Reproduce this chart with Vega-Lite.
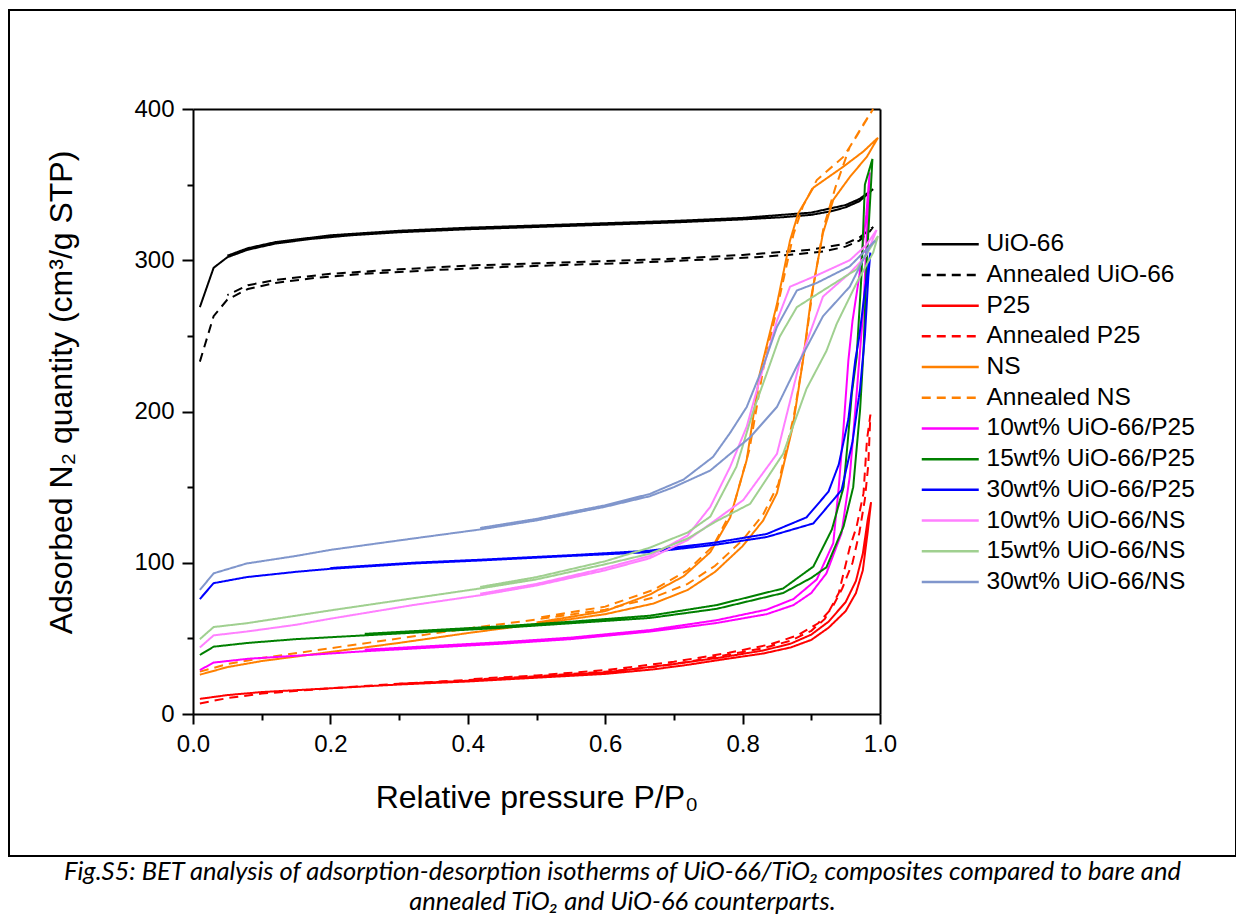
{
"$schema": "https://vega.github.io/schema/vega-lite/v6.json",
"autosize": {"type": "none"},
"padding": {"left": 9, "top": 10, "right": 0, "bottom": 58},
"width": 1227,
"height": 846,
"background": "white",
"config": {"view": {"stroke": "black", "strokeWidth": 2}, "font": "Liberation Sans"},
"title": {"text": ["Fig.S5: BET analysis of adsorption-desorption isotherms of UiO-66/TiO₂ composites compared to bare and", "annealed TiO₂ and UiO-66 counterparts."], "orient": "bottom", "anchor": "middle", "frame": "group", "font": "Lato", "fontStyle": "italic", "fontWeight": "normal", "fontSize": 25.5, "lineHeight": 30, "offset": 4, "color": "black"},
"datasets": {"iso": [
{"s":"UiO-66","i":0,"p":0.01,"q":269},{"s":"UiO-66","i":1,"p":0.03,"q":295},{"s":"UiO-66","i":2,"p":0.05,"q":302},{"s":"UiO-66","i":3,"p":0.08,"q":307},{"s":"UiO-66","i":4,"p":0.12,"q":311},{"s":"UiO-66","i":5,"p":0.17,"q":314},{"s":"UiO-66","i":6,"p":0.23,"q":316.5},{"s":"UiO-66","i":7,"p":0.3,"q":318.5},{"s":"UiO-66","i":8,"p":0.4,"q":320.5},{"s":"UiO-66","i":9,"p":0.5,"q":322},{"s":"UiO-66","i":10,"p":0.6,"q":323.5},{"s":"UiO-66","i":11,"p":0.7,"q":325},{"s":"UiO-66","i":12,"p":0.8,"q":327},{"s":"UiO-66","i":13,"p":0.86,"q":328.5},{"s":"UiO-66","i":14,"p":0.9,"q":330},{"s":"UiO-66","i":15,"p":0.93,"q":332.5},{"s":"UiO-66","i":16,"p":0.95,"q":335},{"s":"UiO-66","i":17,"p":0.97,"q":339},{"s":"UiO-66","i":18,"p":0.98,"q":343},{"s":"UiO-66","i":19,"p":0.99,"q":347},{"s":"UiO-66","i":20,"p":0.97,"q":340.5},{"s":"UiO-66","i":21,"p":0.95,"q":336.5},{"s":"UiO-66","i":22,"p":0.9,"q":331.5},{"s":"UiO-66","i":23,"p":0.8,"q":328},{"s":"UiO-66","i":24,"p":0.7,"q":326},{"s":"UiO-66","i":25,"p":0.6,"q":324.5},{"s":"UiO-66","i":26,"p":0.5,"q":323},{"s":"UiO-66","i":27,"p":0.4,"q":321.5},{"s":"UiO-66","i":28,"p":0.3,"q":319.5},{"s":"UiO-66","i":29,"p":0.2,"q":316.5},{"s":"UiO-66","i":30,"p":0.12,"q":312},{"s":"UiO-66","i":31,"p":0.08,"q":308},{"s":"UiO-66","i":32,"p":0.05,"q":303},
{"s":"Annealed UiO-66","i":0,"p":0.01,"q":233},{"s":"Annealed UiO-66","i":1,"p":0.03,"q":263},{"s":"Annealed UiO-66","i":2,"p":0.05,"q":274},{"s":"Annealed UiO-66","i":3,"p":0.08,"q":281},{"s":"Annealed UiO-66","i":4,"p":0.12,"q":285},{"s":"Annealed UiO-66","i":5,"p":0.18,"q":288.5},{"s":"Annealed UiO-66","i":6,"p":0.25,"q":291},{"s":"Annealed UiO-66","i":7,"p":0.35,"q":293.5},{"s":"Annealed UiO-66","i":8,"p":0.45,"q":295.5},{"s":"Annealed UiO-66","i":9,"p":0.55,"q":297},{"s":"Annealed UiO-66","i":10,"p":0.65,"q":298.5},{"s":"Annealed UiO-66","i":11,"p":0.75,"q":300.5},{"s":"Annealed UiO-66","i":12,"p":0.82,"q":302},{"s":"Annealed UiO-66","i":13,"p":0.88,"q":304},{"s":"Annealed UiO-66","i":14,"p":0.92,"q":306},{"s":"Annealed UiO-66","i":15,"p":0.95,"q":309},{"s":"Annealed UiO-66","i":16,"p":0.97,"q":313},{"s":"Annealed UiO-66","i":17,"p":0.985,"q":319},{"s":"Annealed UiO-66","i":18,"p":0.99,"q":322},{"s":"Annealed UiO-66","i":19,"p":0.97,"q":315},{"s":"Annealed UiO-66","i":20,"p":0.95,"q":311},{"s":"Annealed UiO-66","i":21,"p":0.9,"q":307},{"s":"Annealed UiO-66","i":22,"p":0.8,"q":303.5},{"s":"Annealed UiO-66","i":23,"p":0.7,"q":301},{"s":"Annealed UiO-66","i":24,"p":0.6,"q":299.5},{"s":"Annealed UiO-66","i":25,"p":0.5,"q":298},{"s":"Annealed UiO-66","i":26,"p":0.4,"q":296.5},{"s":"Annealed UiO-66","i":27,"p":0.3,"q":294},{"s":"Annealed UiO-66","i":28,"p":0.2,"q":291},{"s":"Annealed UiO-66","i":29,"p":0.12,"q":287},{"s":"Annealed UiO-66","i":30,"p":0.08,"q":283.5},{"s":"Annealed UiO-66","i":31,"p":0.05,"q":277},
{"s":"P25","i":0,"p":0.01,"q":10},{"s":"P25","i":1,"p":0.05,"q":12.5},{"s":"P25","i":2,"p":0.1,"q":14.5},{"s":"P25","i":3,"p":0.2,"q":17},{"s":"P25","i":4,"p":0.3,"q":19.5},{"s":"P25","i":5,"p":0.4,"q":21.5},{"s":"P25","i":6,"p":0.5,"q":24},{"s":"P25","i":7,"p":0.6,"q":26.5},{"s":"P25","i":8,"p":0.67,"q":29.5},{"s":"P25","i":9,"p":0.72,"q":32.5},{"s":"P25","i":10,"p":0.77,"q":36},{"s":"P25","i":11,"p":0.83,"q":40},{"s":"P25","i":12,"p":0.87,"q":44},{"s":"P25","i":13,"p":0.9,"q":49},{"s":"P25","i":14,"p":0.925,"q":57},{"s":"P25","i":15,"p":0.95,"q":68},{"s":"P25","i":16,"p":0.965,"q":80},{"s":"P25","i":17,"p":0.975,"q":95},{"s":"P25","i":18,"p":0.982,"q":120},{"s":"P25","i":19,"p":0.987,"q":140},{"s":"P25","i":20,"p":0.982,"q":128},{"s":"P25","i":21,"p":0.975,"q":106},{"s":"P25","i":22,"p":0.965,"q":88},{"s":"P25","i":23,"p":0.95,"q":74},{"s":"P25","i":24,"p":0.925,"q":61},{"s":"P25","i":25,"p":0.9,"q":52.5},{"s":"P25","i":26,"p":0.87,"q":46.5},{"s":"P25","i":27,"p":0.83,"q":42},{"s":"P25","i":28,"p":0.77,"q":37.5},{"s":"P25","i":29,"p":0.7,"q":33},{"s":"P25","i":30,"p":0.6,"q":27.5},{"s":"P25","i":31,"p":0.5,"q":24.5},{"s":"P25","i":32,"p":0.4,"q":22},{"s":"P25","i":33,"p":0.3,"q":20},
{"s":"Annealed P25","i":0,"p":0.01,"q":7},{"s":"Annealed P25","i":1,"p":0.05,"q":10.5},{"s":"Annealed P25","i":2,"p":0.1,"q":13.5},{"s":"Annealed P25","i":3,"p":0.2,"q":17},{"s":"Annealed P25","i":4,"p":0.3,"q":20},{"s":"Annealed P25","i":5,"p":0.4,"q":22.5},{"s":"Annealed P25","i":6,"p":0.5,"q":25},{"s":"Annealed P25","i":7,"p":0.6,"q":28},{"s":"Annealed P25","i":8,"p":0.67,"q":31},{"s":"Annealed P25","i":9,"p":0.72,"q":34.5},{"s":"Annealed P25","i":10,"p":0.77,"q":38.5},{"s":"Annealed P25","i":11,"p":0.83,"q":43.5},{"s":"Annealed P25","i":12,"p":0.87,"q":48.5},{"s":"Annealed P25","i":13,"p":0.9,"q":55},{"s":"Annealed P25","i":14,"p":0.92,"q":63},{"s":"Annealed P25","i":15,"p":0.94,"q":80},{"s":"Annealed P25","i":16,"p":0.956,"q":110},{"s":"Annealed P25","i":17,"p":0.966,"q":124},{"s":"Annealed P25","i":18,"p":0.976,"q":146},{"s":"Annealed P25","i":19,"p":0.981,"q":181},{"s":"Annealed P25","i":20,"p":0.986,"q":198},{"s":"Annealed P25","i":21,"p":0.983,"q":165},{"s":"Annealed P25","i":22,"p":0.978,"q":142},{"s":"Annealed P25","i":23,"p":0.97,"q":120},{"s":"Annealed P25","i":24,"p":0.96,"q":100},{"s":"Annealed P25","i":25,"p":0.945,"q":83},{"s":"Annealed P25","i":26,"p":0.93,"q":70},{"s":"Annealed P25","i":27,"p":0.91,"q":60},{"s":"Annealed P25","i":28,"p":0.88,"q":52},{"s":"Annealed P25","i":29,"p":0.84,"q":46},{"s":"Annealed P25","i":30,"p":0.78,"q":40.5},{"s":"Annealed P25","i":31,"p":0.7,"q":34.5},{"s":"Annealed P25","i":32,"p":0.6,"q":29},{"s":"Annealed P25","i":33,"p":0.5,"q":25.5},{"s":"Annealed P25","i":34,"p":0.4,"q":23},
{"s":"NS","i":0,"p":0.01,"q":26},{"s":"NS","i":1,"p":0.05,"q":31},{"s":"NS","i":2,"p":0.1,"q":35},{"s":"NS","i":3,"p":0.2,"q":41},{"s":"NS","i":4,"p":0.3,"q":47},{"s":"NS","i":5,"p":0.4,"q":53.5},{"s":"NS","i":6,"p":0.5,"q":59.5},{"s":"NS","i":7,"p":0.6,"q":66},{"s":"NS","i":8,"p":0.67,"q":73},{"s":"NS","i":9,"p":0.72,"q":82},{"s":"NS","i":10,"p":0.76,"q":94},{"s":"NS","i":11,"p":0.8,"q":111},{"s":"NS","i":12,"p":0.83,"q":128},{"s":"NS","i":13,"p":0.85,"q":146},{"s":"NS","i":14,"p":0.873,"q":190},{"s":"NS","i":15,"p":0.888,"q":234},{"s":"NS","i":16,"p":0.9,"q":276},{"s":"NS","i":17,"p":0.917,"q":318},{"s":"NS","i":18,"p":0.932,"q":340},{"s":"NS","i":19,"p":0.956,"q":355},{"s":"NS","i":20,"p":0.981,"q":368.5},{"s":"NS","i":21,"p":0.997,"q":381},{"s":"NS","i":22,"p":0.976,"q":372},{"s":"NS","i":23,"p":0.947,"q":362},{"s":"NS","i":24,"p":0.903,"q":348},{"s":"NS","i":25,"p":0.881,"q":331},{"s":"NS","i":26,"p":0.869,"q":313},{"s":"NS","i":27,"p":0.85,"q":271},{"s":"NS","i":28,"p":0.825,"q":225},{"s":"NS","i":29,"p":0.806,"q":168},{"s":"NS","i":30,"p":0.782,"q":130},{"s":"NS","i":31,"p":0.753,"q":107},{"s":"NS","i":32,"p":0.714,"q":91},{"s":"NS","i":33,"p":0.665,"q":79},{"s":"NS","i":34,"p":0.6,"q":68},{"s":"NS","i":35,"p":0.5,"q":60.5},
{"s":"Annealed NS","i":0,"p":0.01,"q":28},{"s":"Annealed NS","i":1,"p":0.05,"q":33},{"s":"Annealed NS","i":2,"p":0.1,"q":37},{"s":"Annealed NS","i":3,"p":0.2,"q":43.5},{"s":"Annealed NS","i":4,"p":0.3,"q":50},{"s":"Annealed NS","i":5,"p":0.4,"q":56.5},{"s":"Annealed NS","i":6,"p":0.5,"q":62.5},{"s":"Annealed NS","i":7,"p":0.6,"q":69},{"s":"Annealed NS","i":8,"p":0.67,"q":77},{"s":"Annealed NS","i":9,"p":0.72,"q":86},{"s":"Annealed NS","i":10,"p":0.76,"q":98},{"s":"Annealed NS","i":11,"p":0.8,"q":115},{"s":"Annealed NS","i":12,"p":0.83,"q":132},{"s":"Annealed NS","i":13,"p":0.852,"q":152},{"s":"Annealed NS","i":14,"p":0.875,"q":198},{"s":"Annealed NS","i":15,"p":0.89,"q":240},{"s":"Annealed NS","i":16,"p":0.902,"q":280},{"s":"Annealed NS","i":17,"p":0.918,"q":322},{"s":"Annealed NS","i":18,"p":0.935,"q":348},{"s":"Annealed NS","i":19,"p":0.956,"q":375},{"s":"Annealed NS","i":20,"p":0.976,"q":390},{"s":"Annealed NS","i":21,"p":0.99,"q":400},{"s":"Annealed NS","i":22,"p":0.966,"q":382},{"s":"Annealed NS","i":23,"p":0.947,"q":368.5},{"s":"Annealed NS","i":24,"p":0.908,"q":353},{"s":"Annealed NS","i":25,"p":0.888,"q":336},{"s":"Annealed NS","i":26,"p":0.874,"q":317},{"s":"Annealed NS","i":27,"p":0.856,"q":280},{"s":"Annealed NS","i":28,"p":0.83,"q":228},{"s":"Annealed NS","i":29,"p":0.81,"q":175},{"s":"Annealed NS","i":30,"p":0.786,"q":136},{"s":"Annealed NS","i":31,"p":0.757,"q":111},{"s":"Annealed NS","i":32,"p":0.72,"q":95},{"s":"Annealed NS","i":33,"p":0.67,"q":82},{"s":"Annealed NS","i":34,"p":0.6,"q":71},{"s":"Annealed NS","i":35,"p":0.5,"q":63.5},
{"s":"10wt% UiO-66/P25","i":0,"p":0.01,"q":29},{"s":"10wt% UiO-66/P25","i":1,"p":0.03,"q":34},{"s":"10wt% UiO-66/P25","i":2,"p":0.08,"q":36.5},{"s":"10wt% UiO-66/P25","i":3,"p":0.15,"q":38.5},{"s":"10wt% UiO-66/P25","i":4,"p":0.25,"q":41.5},{"s":"10wt% UiO-66/P25","i":5,"p":0.35,"q":44},{"s":"10wt% UiO-66/P25","i":6,"p":0.45,"q":46.5},{"s":"10wt% UiO-66/P25","i":7,"p":0.55,"q":49.5},{"s":"10wt% UiO-66/P25","i":8,"p":0.665,"q":54.5},{"s":"10wt% UiO-66/P25","i":9,"p":0.76,"q":60},{"s":"10wt% UiO-66/P25","i":10,"p":0.835,"q":66},{"s":"10wt% UiO-66/P25","i":11,"p":0.874,"q":72},{"s":"10wt% UiO-66/P25","i":12,"p":0.9,"q":80},{"s":"10wt% UiO-66/P25","i":13,"p":0.922,"q":93},{"s":"10wt% UiO-66/P25","i":14,"p":0.944,"q":119.5},{"s":"10wt% UiO-66/P25","i":15,"p":0.956,"q":157},{"s":"10wt% UiO-66/P25","i":16,"p":0.966,"q":212},{"s":"10wt% UiO-66/P25","i":17,"p":0.976,"q":269},{"s":"10wt% UiO-66/P25","i":18,"p":0.985,"q":358},{"s":"10wt% UiO-66/P25","i":19,"p":0.98,"q":330},{"s":"10wt% UiO-66/P25","i":20,"p":0.97,"q":290},{"s":"10wt% UiO-66/P25","i":21,"p":0.96,"q":260},{"s":"10wt% UiO-66/P25","i":22,"p":0.954,"q":234},{"s":"10wt% UiO-66/P25","i":23,"p":0.947,"q":190},{"s":"10wt% UiO-66/P25","i":24,"p":0.94,"q":150},{"s":"10wt% UiO-66/P25","i":25,"p":0.932,"q":113},{"s":"10wt% UiO-66/P25","i":26,"p":0.908,"q":89},{"s":"10wt% UiO-66/P25","i":27,"p":0.874,"q":76},{"s":"10wt% UiO-66/P25","i":28,"p":0.835,"q":69},{"s":"10wt% UiO-66/P25","i":29,"p":0.762,"q":62},{"s":"10wt% UiO-66/P25","i":30,"p":0.665,"q":55.5},{"s":"10wt% UiO-66/P25","i":31,"p":0.55,"q":50.5},{"s":"10wt% UiO-66/P25","i":32,"p":0.45,"q":47.5},{"s":"10wt% UiO-66/P25","i":33,"p":0.35,"q":45},{"s":"10wt% UiO-66/P25","i":34,"p":0.25,"q":42.5},
{"s":"15wt% UiO-66/P25","i":0,"p":0.01,"q":39},{"s":"15wt% UiO-66/P25","i":1,"p":0.03,"q":44.5},{"s":"15wt% UiO-66/P25","i":2,"p":0.08,"q":47},{"s":"15wt% UiO-66/P25","i":3,"p":0.15,"q":49.5},{"s":"15wt% UiO-66/P25","i":4,"p":0.25,"q":52},{"s":"15wt% UiO-66/P25","i":5,"p":0.35,"q":54.5},{"s":"15wt% UiO-66/P25","i":6,"p":0.45,"q":57},{"s":"15wt% UiO-66/P25","i":7,"p":0.55,"q":60},{"s":"15wt% UiO-66/P25","i":8,"p":0.665,"q":63.5},{"s":"15wt% UiO-66/P25","i":9,"p":0.762,"q":69.5},{"s":"15wt% UiO-66/P25","i":10,"p":0.859,"q":80},{"s":"15wt% UiO-66/P25","i":11,"p":0.9,"q":90},{"s":"15wt% UiO-66/P25","i":12,"p":0.922,"q":97},{"s":"15wt% UiO-66/P25","i":13,"p":0.947,"q":124},{"s":"15wt% UiO-66/P25","i":14,"p":0.961,"q":150},{"s":"15wt% UiO-66/P25","i":15,"p":0.971,"q":201},{"s":"15wt% UiO-66/P25","i":16,"p":0.976,"q":240},{"s":"15wt% UiO-66/P25","i":17,"p":0.981,"q":302},{"s":"15wt% UiO-66/P25","i":18,"p":0.989,"q":367},{"s":"15wt% UiO-66/P25","i":19,"p":0.978,"q":350},{"s":"15wt% UiO-66/P25","i":20,"p":0.973,"q":290},{"s":"15wt% UiO-66/P25","i":21,"p":0.966,"q":236},{"s":"15wt% UiO-66/P25","i":22,"p":0.959,"q":212},{"s":"15wt% UiO-66/P25","i":23,"p":0.953,"q":180},{"s":"15wt% UiO-66/P25","i":24,"p":0.947,"q":150},{"s":"15wt% UiO-66/P25","i":25,"p":0.93,"q":122},{"s":"15wt% UiO-66/P25","i":26,"p":0.903,"q":97.5},{"s":"15wt% UiO-66/P25","i":27,"p":0.859,"q":83},{"s":"15wt% UiO-66/P25","i":28,"p":0.762,"q":72},{"s":"15wt% UiO-66/P25","i":29,"p":0.665,"q":65},{"s":"15wt% UiO-66/P25","i":30,"p":0.55,"q":61},{"s":"15wt% UiO-66/P25","i":31,"p":0.45,"q":58},{"s":"15wt% UiO-66/P25","i":32,"p":0.35,"q":55.5},{"s":"15wt% UiO-66/P25","i":33,"p":0.25,"q":53},
{"s":"30wt% UiO-66/P25","i":0,"p":0.01,"q":76},{"s":"30wt% UiO-66/P25","i":1,"p":0.03,"q":86.5},{"s":"30wt% UiO-66/P25","i":2,"p":0.078,"q":90.5},{"s":"30wt% UiO-66/P25","i":3,"p":0.15,"q":94},{"s":"30wt% UiO-66/P25","i":4,"p":0.2,"q":96},{"s":"30wt% UiO-66/P25","i":5,"p":0.32,"q":99.5},{"s":"30wt% UiO-66/P25","i":6,"p":0.418,"q":101.5},{"s":"30wt% UiO-66/P25","i":7,"p":0.55,"q":104.5},{"s":"30wt% UiO-66/P25","i":8,"p":0.665,"q":107},{"s":"30wt% UiO-66/P25","i":9,"p":0.762,"q":112},{"s":"30wt% UiO-66/P25","i":10,"p":0.835,"q":117},{"s":"30wt% UiO-66/P25","i":11,"p":0.903,"q":126},{"s":"30wt% UiO-66/P25","i":12,"p":0.944,"q":148},{"s":"30wt% UiO-66/P25","i":13,"p":0.96,"q":180},{"s":"30wt% UiO-66/P25","i":14,"p":0.971,"q":215},{"s":"30wt% UiO-66/P25","i":15,"p":0.978,"q":250},{"s":"30wt% UiO-66/P25","i":16,"p":0.983,"q":289},{"s":"30wt% UiO-66/P25","i":17,"p":0.986,"q":305},{"s":"30wt% UiO-66/P25","i":18,"p":0.978,"q":280},{"s":"30wt% UiO-66/P25","i":19,"p":0.97,"q":250},{"s":"30wt% UiO-66/P25","i":20,"p":0.964,"q":234},{"s":"30wt% UiO-66/P25","i":21,"p":0.954,"q":195},{"s":"30wt% UiO-66/P25","i":22,"p":0.94,"q":165},{"s":"30wt% UiO-66/P25","i":23,"p":0.925,"q":147},{"s":"30wt% UiO-66/P25","i":24,"p":0.893,"q":130},{"s":"30wt% UiO-66/P25","i":25,"p":0.835,"q":119},{"s":"30wt% UiO-66/P25","i":26,"p":0.762,"q":113.5},{"s":"30wt% UiO-66/P25","i":27,"p":0.665,"q":108},{"s":"30wt% UiO-66/P25","i":28,"p":0.55,"q":105},{"s":"30wt% UiO-66/P25","i":29,"p":0.418,"q":102},{"s":"30wt% UiO-66/P25","i":30,"p":0.32,"q":100},{"s":"30wt% UiO-66/P25","i":31,"p":0.2,"q":96.5},
{"s":"10wt% UiO-66/NS","i":0,"p":0.01,"q":44},{"s":"10wt% UiO-66/NS","i":1,"p":0.03,"q":52},{"s":"10wt% UiO-66/NS","i":2,"p":0.078,"q":54.5},{"s":"10wt% UiO-66/NS","i":3,"p":0.15,"q":59},{"s":"10wt% UiO-66/NS","i":4,"p":0.2,"q":63},{"s":"10wt% UiO-66/NS","i":5,"p":0.32,"q":72},{"s":"10wt% UiO-66/NS","i":6,"p":0.418,"q":78.5},{"s":"10wt% UiO-66/NS","i":7,"p":0.5,"q":85},{"s":"10wt% UiO-66/NS","i":8,"p":0.6,"q":95},{"s":"10wt% UiO-66/NS","i":9,"p":0.665,"q":103},{"s":"10wt% UiO-66/NS","i":10,"p":0.72,"q":115},{"s":"10wt% UiO-66/NS","i":11,"p":0.76,"q":128},{"s":"10wt% UiO-66/NS","i":12,"p":0.801,"q":141.5},{"s":"10wt% UiO-66/NS","i":13,"p":0.85,"q":172},{"s":"10wt% UiO-66/NS","i":14,"p":0.884,"q":234},{"s":"10wt% UiO-66/NS","i":15,"p":0.917,"q":276},{"s":"10wt% UiO-66/NS","i":16,"p":0.956,"q":291.5},{"s":"10wt% UiO-66/NS","i":17,"p":0.98,"q":303},{"s":"10wt% UiO-66/NS","i":18,"p":0.995,"q":320},{"s":"10wt% UiO-66/NS","i":19,"p":0.98,"q":310},{"s":"10wt% UiO-66/NS","i":20,"p":0.956,"q":300},{"s":"10wt% UiO-66/NS","i":21,"p":0.908,"q":290},{"s":"10wt% UiO-66/NS","i":22,"p":0.869,"q":282.5},{"s":"10wt% UiO-66/NS","i":23,"p":0.85,"q":260},{"s":"10wt% UiO-66/NS","i":24,"p":0.825,"q":221},{"s":"10wt% UiO-66/NS","i":25,"p":0.806,"q":190},{"s":"10wt% UiO-66/NS","i":26,"p":0.782,"q":163.5},{"s":"10wt% UiO-66/NS","i":27,"p":0.753,"q":137},{"s":"10wt% UiO-66/NS","i":28,"p":0.72,"q":118},{"s":"10wt% UiO-66/NS","i":29,"p":0.665,"q":104.5},{"s":"10wt% UiO-66/NS","i":30,"p":0.6,"q":96.5},{"s":"10wt% UiO-66/NS","i":31,"p":0.5,"q":86},{"s":"10wt% UiO-66/NS","i":32,"p":0.418,"q":79.5},
{"s":"15wt% UiO-66/NS","i":0,"p":0.01,"q":49.5},{"s":"15wt% UiO-66/NS","i":1,"p":0.03,"q":57.5},{"s":"15wt% UiO-66/NS","i":2,"p":0.078,"q":60},{"s":"15wt% UiO-66/NS","i":3,"p":0.15,"q":65},{"s":"15wt% UiO-66/NS","i":4,"p":0.2,"q":68.5},{"s":"15wt% UiO-66/NS","i":5,"p":0.32,"q":76.5},{"s":"15wt% UiO-66/NS","i":6,"p":0.418,"q":83},{"s":"15wt% UiO-66/NS","i":7,"p":0.5,"q":89},{"s":"15wt% UiO-66/NS","i":8,"p":0.6,"q":99},{"s":"15wt% UiO-66/NS","i":9,"p":0.665,"q":106},{"s":"15wt% UiO-66/NS","i":10,"p":0.72,"q":116},{"s":"15wt% UiO-66/NS","i":11,"p":0.76,"q":127},{"s":"15wt% UiO-66/NS","i":12,"p":0.811,"q":139},{"s":"15wt% UiO-66/NS","i":13,"p":0.859,"q":172},{"s":"15wt% UiO-66/NS","i":14,"p":0.893,"q":215},{"s":"15wt% UiO-66/NS","i":15,"p":0.922,"q":240},{"s":"15wt% UiO-66/NS","i":16,"p":0.937,"q":258},{"s":"15wt% UiO-66/NS","i":17,"p":0.966,"q":285},{"s":"15wt% UiO-66/NS","i":18,"p":0.99,"q":305},{"s":"15wt% UiO-66/NS","i":19,"p":0.997,"q":316},{"s":"15wt% UiO-66/NS","i":20,"p":0.966,"q":294},{"s":"15wt% UiO-66/NS","i":21,"p":0.917,"q":280},{"s":"15wt% UiO-66/NS","i":22,"p":0.879,"q":269},{"s":"15wt% UiO-66/NS","i":23,"p":0.854,"q":249.5},{"s":"15wt% UiO-66/NS","i":24,"p":0.835,"q":225},{"s":"15wt% UiO-66/NS","i":25,"p":0.816,"q":201},{"s":"15wt% UiO-66/NS","i":26,"p":0.791,"q":163.5},{"s":"15wt% UiO-66/NS","i":27,"p":0.753,"q":130.5},{"s":"15wt% UiO-66/NS","i":28,"p":0.72,"q":120},{"s":"15wt% UiO-66/NS","i":29,"p":0.665,"q":110},{"s":"15wt% UiO-66/NS","i":30,"p":0.6,"q":101},{"s":"15wt% UiO-66/NS","i":31,"p":0.5,"q":90.5},{"s":"15wt% UiO-66/NS","i":32,"p":0.418,"q":84},
{"s":"30wt% UiO-66/NS","i":0,"p":0.01,"q":82},{"s":"30wt% UiO-66/NS","i":1,"p":0.03,"q":93},{"s":"30wt% UiO-66/NS","i":2,"p":0.078,"q":99.5},{"s":"30wt% UiO-66/NS","i":3,"p":0.15,"q":104.5},{"s":"30wt% UiO-66/NS","i":4,"p":0.2,"q":108.5},{"s":"30wt% UiO-66/NS","i":5,"p":0.32,"q":116},{"s":"30wt% UiO-66/NS","i":6,"p":0.418,"q":122},{"s":"30wt% UiO-66/NS","i":7,"p":0.5,"q":128},{"s":"30wt% UiO-66/NS","i":8,"p":0.6,"q":137},{"s":"30wt% UiO-66/NS","i":9,"p":0.665,"q":144},{"s":"30wt% UiO-66/NS","i":10,"p":0.7,"q":150},{"s":"30wt% UiO-66/NS","i":11,"p":0.753,"q":161},{"s":"30wt% UiO-66/NS","i":12,"p":0.811,"q":183},{"s":"30wt% UiO-66/NS","i":13,"p":0.85,"q":203},{"s":"30wt% UiO-66/NS","i":14,"p":0.879,"q":230},{"s":"30wt% UiO-66/NS","i":15,"p":0.917,"q":263},{"s":"30wt% UiO-66/NS","i":16,"p":0.956,"q":282.5},{"s":"30wt% UiO-66/NS","i":17,"p":0.985,"q":309},{"s":"30wt% UiO-66/NS","i":18,"p":0.993,"q":313},{"s":"30wt% UiO-66/NS","i":19,"p":0.956,"q":296},{"s":"30wt% UiO-66/NS","i":20,"p":0.908,"q":285},{"s":"30wt% UiO-66/NS","i":21,"p":0.879,"q":280},{"s":"30wt% UiO-66/NS","i":22,"p":0.85,"q":256},{"s":"30wt% UiO-66/NS","i":23,"p":0.83,"q":230},{"s":"30wt% UiO-66/NS","i":24,"p":0.806,"q":203},{"s":"30wt% UiO-66/NS","i":25,"p":0.782,"q":186},{"s":"30wt% UiO-66/NS","i":26,"p":0.757,"q":170},{"s":"30wt% UiO-66/NS","i":27,"p":0.714,"q":155},{"s":"30wt% UiO-66/NS","i":28,"p":0.665,"q":145.5},{"s":"30wt% UiO-66/NS","i":29,"p":0.6,"q":138},{"s":"30wt% UiO-66/NS","i":30,"p":0.5,"q":129},{"s":"30wt% UiO-66/NS","i":31,"p":0.418,"q":123}
]},
"data": {"name": "iso"},
"layer": [
{"mark": {"type": "line", "strokeWidth": 2},
 "encoding": {
  "x": {"field": "p", "type": "quantitative", "scale": {"domain": [0, 1], "range": [184, 871], "nice": false, "zero": false},
   "axis": {"orient": "bottom", "offset": -142, "values": [0, 0.2, 0.4, 0.6, 0.8, 1], "format": ".1f", "labelFlush": false, "title": "Relative pressure P/P₀", "grid": false, "domainColor": "black", "domainWidth": 2, "tickColor": "black", "tickWidth": 2, "tickSize": 10, "labelFontSize": 24, "labelColor": "black", "labelPadding": 8, "labelFont": "Liberation Sans", "titleFont": "Liberation Sans", "titleFontSize": 32, "titleFontWeight": "normal", "titleColor": "black", "titlePadding": 26}},
  "y": {"field": "q", "type": "quantitative", "scale": {"domain": [0, 400], "range": [704, 99], "nice": false, "zero": false},
   "axis": {"orient": "left", "offset": -184, "values": [0, 100, 200, 300, 400], "labelFlush": false, "title": "Adsorbed N₂ quantity (cm³/g STP)", "titleY": 382, "grid": false, "domainColor": "black", "domainWidth": 2, "tickColor": "black", "tickWidth": 2, "tickSize": 11, "labelFontSize": 24, "labelColor": "black", "labelPadding": 8, "labelFont": "Liberation Sans", "titleFont": "Liberation Sans", "titleFontSize": 32, "titleFontWeight": "normal", "titleColor": "black", "titlePadding": 55}},
  "color": {"field": "s", "type": "nominal",
   "scale": {"domain": ["UiO-66", "Annealed UiO-66", "P25", "Annealed P25", "NS", "Annealed NS", "10wt% UiO-66/P25", "15wt% UiO-66/P25", "30wt% UiO-66/P25", "10wt% UiO-66/NS", "15wt% UiO-66/NS", "30wt% UiO-66/NS"],
    "range": ["#000000", "#000000", "#FF0000", "#FF0000", "#FF8000", "#FF8000", "#FF00FF", "#008000", "#0000FF", "#FF80FF", "#A0D090", "#8096CC"]},
   "legend": {"orient": "none", "legendX": 929, "legendY": 222, "title": null, "symbolType": "M-3,0H3", "symbolSize": 361, "symbolStrokeWidth": 2.5, "labelFontSize": 24.5, "labelFont": "Liberation Sans", "labelColor": "black", "labelOffset": 24, "rowPadding": 5.7, "padding": 0, "labelLimit": 0}},
  "strokeDash": {"field": "s", "type": "nominal",
   "scale": {"domain": ["UiO-66", "Annealed UiO-66", "P25", "Annealed P25", "NS", "Annealed NS", "10wt% UiO-66/P25", "15wt% UiO-66/P25", "30wt% UiO-66/P25", "10wt% UiO-66/NS", "15wt% UiO-66/NS", "30wt% UiO-66/NS"],
    "range": [[1, 0], [9, 6], [1, 0], [9, 6], [1, 0], [9, 6], [1, 0], [1, 0], [1, 0], [1, 0], [1, 0], [1, 0]]}},
  "order": {"field": "i", "type": "quantitative"}
 }},
{"mark": {"type": "point", "opacity": 0},
 "encoding": {
  "x": {"field": "p", "type": "quantitative", "axis": {"orient": "bottom", "offset": -142, "values": [0.1, 0.3, 0.5, 0.7, 0.9], "labels": false, "domain": false, "grid": false, "title": null, "tickColor": "black", "tickWidth": 2, "tickSize": 6}},
  "y": {"field": "q", "type": "quantitative", "axis": {"orient": "left", "offset": -184, "values": [50, 150, 250, 350], "labels": false, "domain": false, "grid": false, "title": null, "tickColor": "black", "tickWidth": 2, "tickSize": 6}}
 }},
{"mark": {"type": "point", "opacity": 0},
 "encoding": {
  "x": {"field": "p", "type": "quantitative", "axis": {"orient": "top", "offset": -99, "ticks": false, "labels": false, "domain": true, "domainColor": "black", "domainWidth": 2, "grid": false, "title": null}},
  "y": {"field": "q", "type": "quantitative", "axis": {"orient": "right", "offset": -356, "ticks": false, "labels": false, "domain": true, "domainColor": "black", "domainWidth": 2, "grid": false, "title": null}}
 }}
],
"resolve": {"axis": {"x": "independent", "y": "independent"}}
}
